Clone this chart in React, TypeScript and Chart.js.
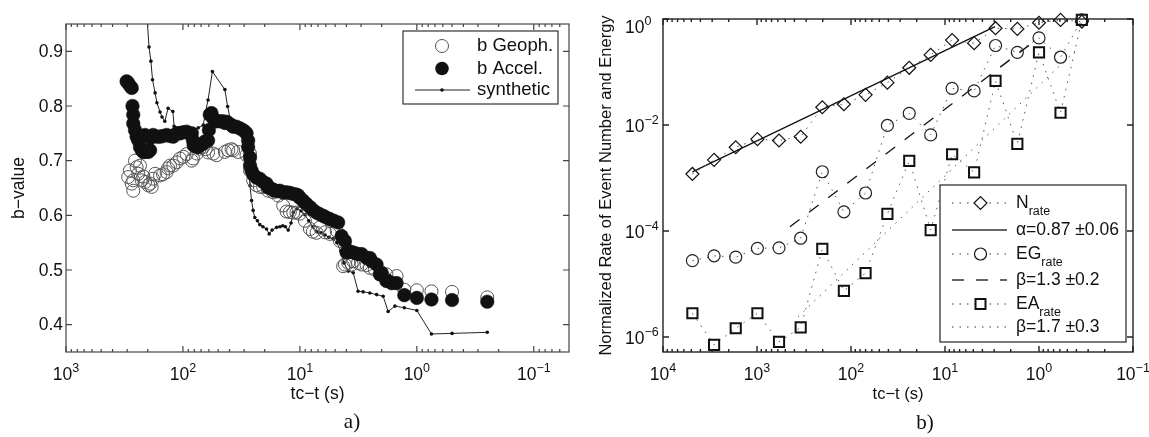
import React, { useEffect, useRef } from "react";
import { Chart, registerables } from "chart.js";
Chart.register(...registerables);

const FONT = '"Liberation Sans", Arial, Helvetica, sans-serif';
const SERIF = '"Liberation Serif", "Times New Roman", serif';

// ---------- Panel a: b-value vs time to failure ----------
const geophX = [294, 284, 274, 266, 266, 257, 249, 241, 233, 225, 218, 211, 198, 191, 185, 180, 173, 157, 148, 138, 134, 129, 121, 113, 106, 99, 93, 84, 82, 76, 72, 67, 64, 61, 55, 51.5, 43.8, 41, 38.4, 37.2, 33.7, 28.6, 26.7, 26.7, 25.1, 23.5, 22.0, 20.6, 18.7, 16.9, 15.3, 13.9, 13.0, 12.2, 11.4, 10.7, 10.0, 9.06, 8.2, 7.75, 7.2, 6.75, 6.1, 5.54, 4.85, 4.55, 4.27, 4.12, 3.86, 3.61, 3.5, 3.18, 2.97, 2.69, 2.52, 2.29, 1.94, 1.82, 1.49, 1.28, 1.0, 0.75, 0.5, 0.25];
const geophB = [0.670, 0.682, 0.658, 0.645, 0.664, 0.70, 0.688, 0.676, 0.691, 0.664, 0.671, 0.661, 0.655, 0.658, 0.652, 0.667, 0.676, 0.673, 0.675, 0.679, 0.686, 0.691, 0.691, 0.697, 0.704, 0.707, 0.712, 0.70, 0.704, 0.713, 0.722, 0.725, 0.721, 0.715, 0.713, 0.71, 0.716, 0.719, 0.721, 0.719, 0.716, 0.71, 0.713, 0.682, 0.664, 0.655, 0.652, 0.652, 0.645, 0.642, 0.636, 0.618, 0.607, 0.606, 0.605, 0.605, 0.603, 0.59, 0.575, 0.57, 0.568, 0.578, 0.569, 0.566, 0.572, 0.553, 0.507, 0.51, 0.513, 0.51, 0.516, 0.513, 0.51, 0.509, 0.504, 0.501, 0.489, 0.492, 0.489, 0.464, 0.463, 0.461, 0.46, 0.45];

const accelX = [303, 294, 284, 274, 270, 266, 266, 257, 249, 241, 233, 225, 218, 211, 198, 191, 211, 191, 180, 167, 157, 148, 138, 129, 121, 113, 106, 100, 93, 89, 84, 82, 81, 76, 74, 72, 67, 65, 61, 60, 59, 57, 55, 53, 51.5, 48.3, 45.5, 43.8, 42.3, 41, 38.4, 37.2, 34.8, 32.6, 30.7, 29.5, 28.6, 27.7, 27.7, 26.7, 26.7, 25.9, 25.1, 23.5, 22.0, 20.6, 19.3, 18.7, 17.7, 16.9, 16.4, 15.3, 14.8, 13.9, 13.0, 12.2, 11.4, 10.7, 10.3, 10.0, 9.4, 8.8, 8.2, 7.75, 7.2, 6.75, 6.32, 5.94, 5.54, 5.12, 4.71, 4.4, 4.12, 3.99, 3.86, 3.61, 3.39, 3.18, 2.97, 2.69, 2.52, 2.44, 2.21, 2.07, 2.0, 1.82, 1.76, 1.64, 1.49, 1.28, 1.0, 0.75, 0.5, 0.25];
const accelB = [0.845, 0.842, 0.837, 0.833, 0.80, 0.784, 0.768, 0.756, 0.744, 0.737, 0.725, 0.719, 0.716, 0.716, 0.716, 0.719, 0.747, 0.741, 0.747, 0.744, 0.744, 0.745, 0.747, 0.745, 0.744, 0.75, 0.75, 0.752, 0.753, 0.75, 0.75, 0.737, 0.728, 0.725, 0.725, 0.728, 0.731, 0.735, 0.737, 0.756, 0.784, 0.787, 0.777, 0.774, 0.772, 0.772, 0.772, 0.769, 0.771, 0.769, 0.765, 0.762, 0.762, 0.759, 0.756, 0.753, 0.75, 0.737, 0.725, 0.706, 0.691, 0.682, 0.675, 0.669, 0.667, 0.661, 0.658, 0.651, 0.649, 0.647, 0.645, 0.644, 0.645, 0.642, 0.642, 0.641, 0.639, 0.638, 0.636, 0.632, 0.627, 0.621, 0.615, 0.61, 0.605, 0.602, 0.599, 0.596, 0.593, 0.59, 0.587, 0.562, 0.553, 0.532, 0.535, 0.533, 0.531, 0.529, 0.529, 0.522, 0.522, 0.516, 0.51, 0.492, 0.495, 0.48, 0.48, 0.476, 0.476, 0.454, 0.449, 0.446, 0.445, 0.442];

const synthX = [205, 195, 188, 182, 173, 167, 157, 151, 143, 134, 122, 119, 110, 100, 91, 82, 74, 67, 64, 61, 56, 43.8, 41.5, 39.6, 37.4, 34.5, 31.9, 29.5, 27.7, 26.7, 25.9, 25.1, 24.3, 23.1, 22.0, 20.7, 19.3, 18.3, 17.3, 15.8, 14.8, 14.0, 13.3, 12.6, 11.9, 11.4, 10.6, 9.8, 9.06, 8.4, 7.75, 7.16, 6.6, 6.1, 5.65, 5.2, 4.83, 4.47, 4.2, 3.86, 3.5, 3.18, 2.88, 2.52, 2.21, 1.94, 1.76, 1.54, 1.28, 1.0, 0.75, 0.5, 0.25];
const synthB = [0.977, 0.908, 0.882, 0.848, 0.824, 0.806, 0.789, 0.78, 0.772, 0.796, 0.79, 0.763, 0.76, 0.756, 0.76, 0.756, 0.76, 0.765, 0.79, 0.811, 0.863, 0.83, 0.799, 0.778, 0.765, 0.756, 0.747, 0.737, 0.70, 0.654, 0.627, 0.609, 0.596, 0.59, 0.583, 0.579, 0.575, 0.566, 0.573, 0.578, 0.579, 0.581, 0.579, 0.573, 0.586, 0.605, 0.612, 0.608, 0.601, 0.59, 0.579, 0.57, 0.568, 0.564, 0.56, 0.557, 0.55, 0.535, 0.513, 0.498, 0.495, 0.461, 0.46, 0.458, 0.455, 0.452, 0.424, 0.434, 0.431, 0.426, 0.383, 0.384, 0.386];

const xMajorA = [1000, 100, 10, 1, 0.1];
const yTicksA = [0.4, 0.5, 0.6, 0.7, 0.8, 0.9];

// ---------- Panel b: normalized rates ----------
const timeB = [4866, 2862, 1684, 990, 583, 343, 202, 119, 70, 41, 24, 14.2, 8.4, 4.9, 2.9, 1.7, 1, 0.59, 0.35];
const nRate = [1.19e-3, 2.2e-3, 3.8e-3, 5.4e-3, 5.1e-3, 6.0e-3, 0.0216, 0.0246, 0.037, 0.063, 0.12, 0.21, 0.40, 0.35, 0.67, 0.65, 0.85, 0.96, 0.89];
const egRate = [2.75e-5, 3.4e-5, 3.2e-5, 4.7e-5, 4.8e-5, 7.3e-5, 1.31e-3, 2.3e-4, 5.2e-4, 9.8e-3, 0.0166, 6.5e-3, 0.049, 0.044, 0.316, 0.235, 0.44, 0.19, 0.96];
const eaRate = [2.8e-6, 7.1e-7, 1.46e-6, 2.8e-6, 8.1e-7, 1.52e-6, 4.6e-5, 7.4e-6, 1.6e-5, 2.1e-4, 2.1e-3, 1.04e-4, 2.8e-3, 1.28e-3, 0.068, 4.4e-3, 0.235, 0.017, 0.96];
const alphaFitX = [4866, 2.94];
const alphaFitY = [1.3e-3, 0.716];
const beta13X = [446, 1.06];
const beta13Y = [1.2e-4, 0.41];
const beta17X = [366, 0.37];
const beta17Y = [2.4e-6, 0.30];

const xMajorB = [10000, 1000, 100, 10, 1, 0.1];
const yMajorB = [1, 1e-2, 1e-4, 1e-6];

function pts(xs: number[], ys: number[]) {
  return xs.map((x, i) => ({ x, y: ys[i] }));
}

function minorTicks(min: number, max: number) {
  const out: number[] = [];
  for (let d = Math.floor(Math.log10(min)); d <= Math.ceil(Math.log10(max)); d++) {
    for (let k = 2; k <= 9; k++) {
      const v = k * Math.pow(10, d);
      if (v > min && v < max) out.push(v);
    }
  }
  return out;
}

function expStr(v: number) {
  const e = Math.round(Math.log10(v));
  return e < 0 ? "\u2212" + -e : String(e);
}

function drawPow(ctx: CanvasRenderingContext2D, x: number, y: number, v: number, center: boolean) {
  ctx.font = `17.5px ${FONT}`;
  const wb = ctx.measureText("10").width;
  ctx.font = `12.5px ${FONT}`;
  const es = expStr(v);
  const we = ctx.measureText(es).width;
  const sx = center ? x - (wb + we) / 2 : x;
  ctx.textAlign = "left";
  ctx.textBaseline = "alphabetic";
  ctx.font = `17.5px ${FONT}`;
  ctx.fillText("10", sx, y);
  ctx.font = `12.5px ${FONT}`;
  ctx.fillText(es, sx + wb, y - 8);
}

function drawLogXTicks(ctx: CanvasRenderingContext2D, chart: any, majors: number[], min: number, max: number) {
  const { top, bottom } = chart.chartArea;
  const xs = chart.scales.x;
  ctx.beginPath();
  for (const v of majors) {
    const p = xs.getPixelForValue(v);
    ctx.moveTo(p, bottom);
    ctx.lineTo(p, bottom - 6);
    ctx.moveTo(p, top);
    ctx.lineTo(p, top + 6);
  }
  for (const v of minorTicks(min, max)) {
    const p = xs.getPixelForValue(v);
    ctx.moveTo(p, bottom);
    ctx.lineTo(p, bottom - 3);
    ctx.moveTo(p, top);
    ctx.lineTo(p, top + 3);
  }
  ctx.stroke();
}

function circle(ctx: CanvasRenderingContext2D, x: number, y: number, r: number) {
  ctx.beginPath();
  ctx.arc(x, y, r, 0, Math.PI * 2);
}

const plotA = {
  id: "plotA",
  afterDraw(chart: any) {
    const ctx: CanvasRenderingContext2D = chart.ctx;
    const { left, right, top, bottom } = chart.chartArea;
    const ys = chart.scales.y;
    ctx.save();
    ctx.strokeStyle = "#444";
    ctx.lineWidth = 1.2;
    ctx.strokeRect(left, top, right - left, bottom - top);
    drawLogXTicks(ctx, chart, xMajorA, 0.05, 1000);
    ctx.beginPath();
    for (const v of yTicksA) {
      const p = ys.getPixelForValue(v);
      ctx.moveTo(left, p);
      ctx.lineTo(left + 6, p);
      ctx.moveTo(right, p);
      ctx.lineTo(right - 6, p);
    }
    ctx.stroke();

    ctx.fillStyle = "#111";
    ctx.font = `17.5px ${FONT}`;
    ctx.textAlign = "right";
    ctx.textBaseline = "middle";
    for (const v of yTicksA) ctx.fillText(v.toFixed(1), left - 3, ys.getPixelForValue(v) + 1);
    for (const v of xMajorA) drawPow(ctx, chart.scales.x.getPixelForValue(v), 380, v, true);

    // axis titles
    ctx.font = `17.5px ${FONT}`;
    ctx.textAlign = "center";
    ctx.textBaseline = "alphabetic";
    ctx.fillText("tc\u2212t (s)", (left + right) / 2, 399);
    ctx.save();
    ctx.translate(19, (top + bottom) / 2);
    ctx.rotate(-Math.PI / 2);
    ctx.textBaseline = "middle";
    ctx.fillText("b\u2212value", 0, 0);
    ctx.restore();
    ctx.font = `21px ${SERIF}`;
    ctx.fillText("a)", 352, 428);

    // legend
    ctx.fillStyle = "#fff";
    ctx.fillRect(403, 31, 155, 73);
    ctx.strokeStyle = "#333";
    ctx.lineWidth = 1.2;
    ctx.strokeRect(403, 31, 155, 73);
    ctx.strokeStyle = "#555";
    ctx.lineWidth = 1;
    circle(ctx, 442, 46, 6.5);
    ctx.stroke();
    ctx.fillStyle = "#111";
    circle(ctx, 442, 68.5, 6.8);
    ctx.fill();
    ctx.strokeStyle = "#222";
    ctx.beginPath();
    ctx.moveTo(415, 90);
    ctx.lineTo(470, 90);
    ctx.stroke();
    circle(ctx, 442, 90, 1.8);
    ctx.fill();
    ctx.fillStyle = "#111";
    ctx.font = `18.5px ${FONT}`;
    ctx.textAlign = "left";
    ctx.textBaseline = "middle";
    ctx.fillText("b Geoph.", 477, 46);
    ctx.fillText("b Accel.", 477, 68.5);
    ctx.fillText("synthetic", 477, 90);
    ctx.restore();
  },
};

function legendText(ctx: CanvasRenderingContext2D, x: number, y: number, main: string, sub?: string) {
  ctx.textAlign = "left";
  ctx.textBaseline = "alphabetic";
  ctx.font = `17.5px ${FONT}`;
  ctx.fillText(main, x, y + 5);
  if (sub) {
    const w = ctx.measureText(main).width;
    ctx.font = `12.5px ${FONT}`;
    ctx.fillText(sub, x + w, y + 12);
  }
}

const plotB = {
  id: "plotB",
  afterDraw(chart: any) {
    const ctx: CanvasRenderingContext2D = chart.ctx;
    const { left, right, top, bottom } = chart.chartArea;
    const ys = chart.scales.y;
    ctx.save();
    ctx.strokeStyle = "#222";
    ctx.lineWidth = 1.4;
    ctx.strokeRect(left, top, right - left, bottom - top);
    drawLogXTicks(ctx, chart, xMajorB, 0.1, 10000);
    ctx.beginPath();
    for (const v of yMajorB) {
      const p = ys.getPixelForValue(v);
      ctx.moveTo(left, p);
      ctx.lineTo(left + 6, p);
      ctx.moveTo(right, p);
      ctx.lineTo(right - 6, p);
    }
    ctx.stroke();

    ctx.fillStyle = "#111";
    for (const v of xMajorB) drawPow(ctx, chart.scales.x.getPixelForValue(v), 380, v, true);
    for (const v of yMajorB) {
      const p = ys.getPixelForValue(v);
      drawPow(ctx, left - 38, p + (v === 1 ? 14 : 7), v, false);
    }

    ctx.font = `16.5px ${FONT}`;
    ctx.textAlign = "center";
    ctx.textBaseline = "alphabetic";
    ctx.fillText("tc\u2212t (s)", (left + right) / 2, 399);
    ctx.save();
    ctx.translate(31, (top + bottom) / 2);
    ctx.rotate(-Math.PI / 2);
    ctx.textBaseline = "middle";
    ctx.fillText("Normalized Rate of Event Number and Energy", 0, 0);
    ctx.restore();
    ctx.font = `21px ${SERIF}`;
    ctx.fillText("b)", 350, 429);

    // legend
    const bx = 365, by = 185, bw = 186, bh = 157;
    ctx.fillStyle = "#fff";
    ctx.fillRect(bx, by, bw, bh);
    ctx.strokeStyle = "#222";
    ctx.lineWidth = 1.2;
    ctx.strokeRect(bx, by, bw, bh);
    const lx0 = 377, lx1 = 432, mx = 405.5, tx = 441;
    const rows = [203, 230, 254, 280, 304, 327];
    const seg = (y: number, dash: number[], w: number) => {
      ctx.save();
      ctx.setLineDash(dash);
      ctx.lineWidth = w;
      ctx.strokeStyle = "#333";
      ctx.beginPath();
      ctx.moveTo(lx0, y);
      ctx.lineTo(lx1, y);
      ctx.stroke();
      ctx.restore();
    };
    seg(rows[0], [1.5, 6], 1);
    seg(rows[1], [], 1.3);
    seg(rows[2], [1.5, 6], 1);
    seg(rows[3], [12, 12], 1.3);
    seg(rows[4], [1.5, 6], 1);
    seg(rows[5], [1.5, 6], 1);
    // markers
    ctx.fillStyle = "#fff";
    ctx.strokeStyle = "#111";
    ctx.lineWidth = 1.2;
    ctx.beginPath();
    ctx.moveTo(mx - 6.5, rows[0]);
    ctx.lineTo(mx, rows[0] - 6.5);
    ctx.lineTo(mx + 6.5, rows[0]);
    ctx.lineTo(mx, rows[0] + 6.5);
    ctx.closePath();
    ctx.fill();
    ctx.stroke();
    circle(ctx, mx, rows[2], 6);
    ctx.fill();
    ctx.stroke();
    ctx.lineWidth = 2;
    ctx.fillRect(mx - 5, rows[4] - 5, 10, 10);
    ctx.strokeRect(mx - 5, rows[4] - 5, 10, 10);
    ctx.fillStyle = "#111";
    legendText(ctx, tx, rows[0], "N", "rate");
    legendText(ctx, tx, rows[1], "\u03b1=0.87 \u00b10.06");
    legendText(ctx, tx, rows[2], "EG", "rate");
    legendText(ctx, tx, rows[3], "\u03b2=1.3 \u00b10.2");
    legendText(ctx, tx, rows[4], "EA", "rate");
    legendText(ctx, tx, rows[5], "\u03b2=1.7 \u00b10.3");
    ctx.restore();
  },
};

function hiddenScale(extra: any) {
  return {
    ticks: { display: false },
    grid: { display: false },
    border: { display: false },
    ...extra,
  };
}

export default function App() {
  const refA = useRef<HTMLCanvasElement>(null);
  const refB = useRef<HTMLCanvasElement>(null);

  useEffect(() => {
    const chartA = new Chart(refA.current as HTMLCanvasElement, {
      type: "scatter",
      data: {
        datasets: [
          {
            label: "b Accel.",
            data: pts(accelX, accelB),
            showLine: false,
            pointRadius: 6.8,
            pointBackgroundColor: "#111",
            pointBorderColor: "#111",
            pointBorderWidth: 0.5,
          },
          {
            label: "b Geoph.",
            data: pts(geophX, geophB),
            showLine: false,
            pointRadius: 6.5,
            pointBackgroundColor: "rgba(0,0,0,0)",
            pointBorderColor: "#555",
            pointBorderWidth: 1,
          },
          {
            label: "synthetic",
            data: pts(synthX, synthB),
            showLine: true,
            borderColor: "#222",
            borderWidth: 1,
            pointRadius: 1.8,
            pointBackgroundColor: "#111",
            pointBorderColor: "#111",
            pointBorderWidth: 0,
          },
        ],
      },
      options: {
        animation: false,
        responsive: false,
        events: [],
        layout: { padding: { left: 0, right: 6, top: 24, bottom: 0 }, autoPadding: false },
        plugins: { legend: { display: false }, tooltip: { enabled: false } },
        scales: {
          x: hiddenScale({
            type: "logarithmic",
            position: "bottom",
            min: 0.05,
            max: 1000,
            reverse: true,
            afterFit: (s: any) => {
              s.height = 85;
            },
          }),
          y: hiddenScale({
            type: "linear",
            min: 0.35,
            max: 0.95,
            afterFit: (s: any) => {
              s.width = 66;
            },
          }),
        },
      } as any,
      plugins: [plotA],
    });

    const dotted = [1.5, 6];
    const chartB = new Chart(refB.current as HTMLCanvasElement, {
      type: "scatter",
      data: {
        datasets: [
          {
            label: "Nrate",
            data: pts(timeB, nRate),
            showLine: true,
            borderColor: "#555",
            borderWidth: 1,
            borderDash: dotted,
            pointStyle: "rectRot",
            pointRadius: 6.5,
            pointBorderWidth: 1.2,
            pointBorderColor: "#111",
            pointBackgroundColor: "rgba(0,0,0,0)",
            clip: 10,
          },
          {
            label: "alpha",
            data: pts(alphaFitX, alphaFitY),
            showLine: true,
            borderColor: "#111",
            borderWidth: 1.3,
            pointRadius: 0,
          },
          {
            label: "EGrate",
            data: pts(timeB, egRate),
            showLine: true,
            borderColor: "#555",
            borderWidth: 1,
            borderDash: dotted,
            pointStyle: "circle",
            pointRadius: 6,
            pointBorderWidth: 1.2,
            pointBorderColor: "#222",
            pointBackgroundColor: "rgba(0,0,0,0)",
            clip: 10,
          },
          {
            label: "beta13",
            data: pts(beta13X, beta13Y),
            showLine: true,
            borderColor: "#111",
            borderWidth: 1.3,
            borderDash: [12, 12],
            pointRadius: 0,
          },
          {
            label: "EArate",
            data: pts(timeB, eaRate),
            showLine: true,
            borderColor: "#555",
            borderWidth: 1,
            borderDash: dotted,
            pointStyle: "rect",
            pointRadius: 7.2,
            pointBorderWidth: 2,
            pointBorderColor: "#111",
            pointBackgroundColor: "rgba(0,0,0,0)",
            clip: 10,
          },
          {
            label: "beta17",
            data: pts(beta17X, beta17Y),
            showLine: true,
            borderColor: "#555",
            borderWidth: 1,
            borderDash: dotted,
            pointRadius: 0,
          },
        ],
      },
      options: {
        animation: false,
        responsive: false,
        events: [],
        layout: { padding: { left: 0, right: 16, top: 19, bottom: 0 }, autoPadding: false },
        plugins: { legend: { display: false }, tooltip: { enabled: false } },
        scales: {
          x: hiddenScale({
            type: "logarithmic",
            position: "bottom",
            min: 0.1,
            max: 10000,
            reverse: true,
            afterFit: (s: any) => {
              s.height = 85;
            },
          }),
          y: hiddenScale({
            type: "logarithmic",
            min: 5.2e-7,
            max: 1,
            afterFit: (s: any) => {
              s.width = 88;
            },
          }),
        },
      } as any,
      plugins: [plotB],
    });

    return () => {
      chartA.destroy();
      chartB.destroy();
    };
  }, []);

  return (
    <div style={{ position: "absolute", left: 0, top: 0, width: 1149, height: 437, background: "#fff" }}>
      <canvas ref={refA} width={575} height={437} style={{ position: "absolute", left: 0, top: 0 }} />
      <canvas ref={refB} width={574} height={437} style={{ position: "absolute", left: 575, top: 0 }} />
    </div>
  );
}
